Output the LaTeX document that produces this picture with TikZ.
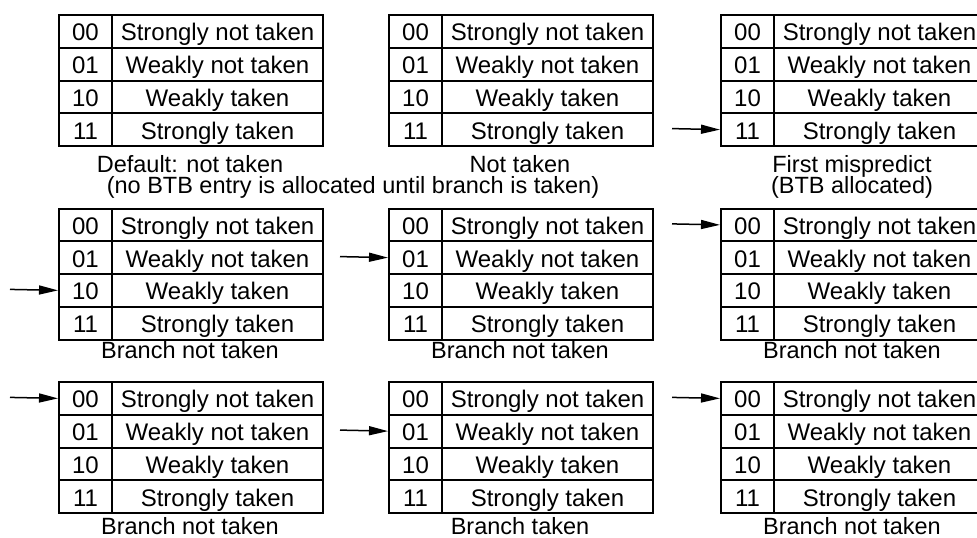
\documentclass[tikz,border=0pt]{standalone}
\usepackage{fontspec}
\setmainfont{Liberation Sans}
\usetikzlibrary{arrows.meta}
\tikzset{
  cellbase/.style={draw, line width=2pt, inner sep=0pt, anchor=north west,
    minimum height=32.75pt, text height=19.2pt, text depth=0pt,
    font=\fontsize{24}{26}\selectfont},
  numcell/.style={cellbase, minimum width=53pt},
  txtcell/.style={cellbase, minimum width=211pt},
  captext/.style={font=\fontsize{23.5}{25}\selectfont, inner sep=0pt, anchor=base},
  ptr/.style={line width=1.5pt, -{Triangle[length=19pt,width=9pt]}},
  tbl/.pic={
    \node[numcell] (-n0) at (0,0) {00};
    \node[txtcell] (-t0) at (53,0) {Strongly not taken};
    \node[numcell] (-n1) at (0,32.75) {01};
    \node[txtcell] (-t1) at (53,32.75) {Weakly not taken};
    \node[numcell] (-n2) at (0,65.5) {10};
    \node[txtcell] (-t2) at (53,65.5) {Weakly taken};
    \node[numcell] (-n3) at (0,98.25) {11};
    \node[txtcell] (-t3) at (53,98.25) {Strongly taken};
  }
}
\begin{document}
\begin{tikzpicture}[x=1pt,y=-1pt]
\useasboundingbox (0,0) rectangle (977,538);
% row 1
\pic (a) at (58,14) {tbl};
\pic (b) at (388,14) {tbl};
\pic (c) at (720,14) {tbl};
% row 2
\pic (d) at (58,207.5) {tbl};
\pic (e) at (388,207.5) {tbl};
\pic (f) at (720,207.5) {tbl};
% row 3
\pic (g) at (58,381) {tbl};
\pic (h) at (388,381) {tbl};
\pic (i) at (720,381) {tbl};
% captions
\node[captext] (ca1) at (190,172) {Default: not taken};
\node[captext] (ca2) at (353,193) {(no BTB entry is allocated until branch is taken)};
\node[captext] (cb1) at (520,172) {Not taken};
\node[captext] (cc1) at (852,172) {First mispredict};
\node[captext] (cc2) at (852,193) {(BTB allocated)};
\node[captext] (cd) at (190,358) {Branch not taken};
\node[captext] (ce) at (520,358) {Branch not taken};
\node[captext] (cf) at (852,358) {Branch not taken};
\node[captext] (cg) at (190,534) {Branch not taken};
\node[captext] (ch) at (520,534) {Branch taken};
\node[captext] (ci) at (852,534) {Branch not taken};
% pointers
\coordinate (pc) at (672,128.6);
\coordinate (pd) at (10,289.4);
\coordinate (pe) at (340,256.6);
\coordinate (pf) at (672,223.9);
\coordinate (pg) at (10,397.4);
\coordinate (ph) at (340,430.1);
\coordinate (pi) at (672,397.4);
\draw[ptr] (pc) -- (c-n3.west);
\draw[ptr] (pd) -- (d-n2.west);
\draw[ptr] (pe) -- (e-n1.west);
\draw[ptr] (pf) -- (f-n0.west);
\draw[ptr] (pg) -- (g-n0.west);
\draw[ptr] (ph) -- (h-n1.west);
\draw[ptr] (pi) -- (i-n0.west);
\end{tikzpicture}
\end{document}
